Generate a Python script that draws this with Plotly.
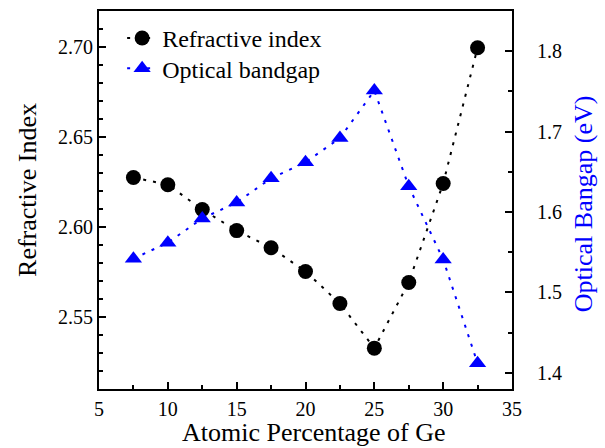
import plotly.graph_objects as go

ge_percent = [7.5, 10, 12.5, 15, 17.5, 20, 22.5, 25, 27.5, 30, 32.5]
refractive_index = [2.6275, 2.6235, 2.6097, 2.598, 2.5885, 2.5753, 2.5575, 2.5327, 2.5692, 2.6242, 2.6996]
optical_bandgap = [1.542, 1.562, 1.592, 1.612, 1.642, 1.662, 1.692, 1.751, 1.632, 1.541, 1.412]

x_title = "Atomic Percentage of Ge"
y_title = "Refractive Index"
y2_title = "Optical Bangap (eV)"

FONT = "Liberation Serif"

fig = go.Figure()
fig.add_trace(go.Scatter(
    x=ge_percent, y=refractive_index, name="Refractive index",
    mode="lines+markers",
    line=dict(color="black", width=2, dash="3px,7px"),
    marker=dict(symbol="circle", size=15, color="black"),
    yaxis="y", legend="legend",
))
fig.add_trace(go.Scatter(
    x=ge_percent, y=optical_bandgap, name="Optical bandgap",
    mode="lines+markers",
    line=dict(color="blue", width=2, dash="3px,7px"),
    marker=dict(symbol="triangle-up", size=15, color="blue"),
    yaxis="y2", legend="legend2",
))

axis_common = dict(
    showline=True, linecolor="black", linewidth=2,
    ticks="inside", ticklen=7, tickwidth=2, tickcolor="black",
    showgrid=False, zeroline=False, automargin=False,
    tickfont=dict(family=FONT, size=20, color="black"),
)

legend_common = dict(
    xanchor="left", yanchor="top",
    bgcolor="rgba(0,0,0,0)", borderwidth=0,
    font=dict(family=FONT, size=24, color="black"),
)

title_font = dict(family=FONT, size=26, color="black")

fig.update_layout(
    width=605, height=448,
    margin=dict(l=99, r=93, t=11, b=59),
    paper_bgcolor="white", plot_bgcolor="white",
    font=dict(family=FONT, color="black"),
    showlegend=True,
    legend=dict(x=0.056, y=0.987, **legend_common),
    legend2=dict(x=0.056, y=0.907, **legend_common),
    xaxis=dict(
        range=[5, 35], tick0=5, dtick=5, mirror=True, ticklabelstandoff=1,
        minor=dict(dtick=2.5, ticks="inside", ticklen=4, tickwidth=2, tickcolor="black"),
        **axis_common,
    ),
    yaxis=dict(
        range=[2.51, 2.72], tick0=2.55, dtick=0.05, tickformat=".2f",
        minor=dict(dtick=0.01, tick0=2.5, ticks="inside", ticklen=4, tickwidth=2, tickcolor="black"),
        **axis_common,
    ),
    yaxis2=dict(
        range=[1.38, 1.85], tick0=1.4, dtick=0.1, tickformat=".1f",
        overlaying="y", side="right", ticklabelstandoff=19,
        minor=dict(dtick=0.05, tick0=1.4, ticks="inside", ticklen=4, tickwidth=2, tickcolor="black"),
        **axis_common,
    ),
    annotations=[
        dict(text=x_title, xref="paper", yref="paper", x=0.5194, y=-0.1164,
             xanchor="center", yanchor="middle", showarrow=False, font=title_font),
        dict(text=y_title, xref="paper", yref="paper", x=-0.172, y=0.5265, textangle=-90,
             xanchor="center", yanchor="middle", showarrow=False, font=title_font),
        dict(text=y2_title, xref="paper", yref="paper", x=1.172, y=0.489, textangle=-90,
             xanchor="center", yanchor="middle", showarrow=False,
             font=dict(family=FONT, size=26, color="blue")),
    ],
)

fig.write_html("out.html")
